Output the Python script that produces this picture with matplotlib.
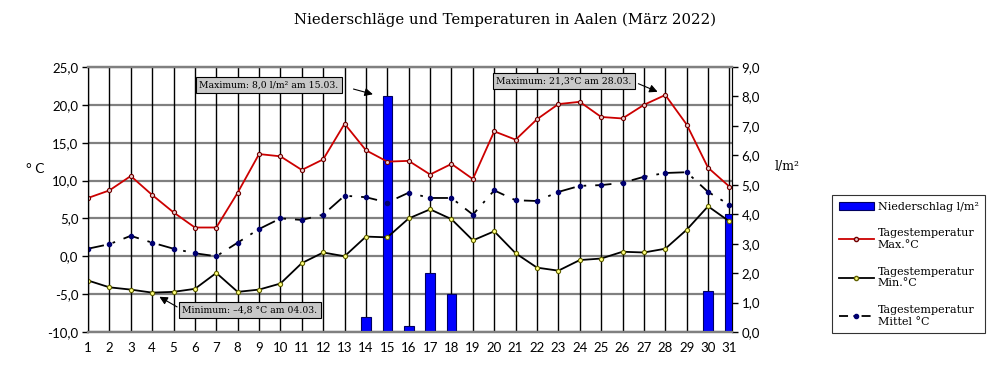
import matplotlib
matplotlib.use('Agg')
import matplotlib.pyplot as plt
from matplotlib.lines import Line2D
from matplotlib.patches import Patch
from matplotlib.transforms import blended_transform_factory

# data
days = list(range(1, 32))

t_max = [7.7, 8.7, 10.6, 8.1, 5.8, 3.8, 3.8, 8.4, 13.5, 13.2, 11.4, 12.8, 17.5, 14.0, 12.5, 12.6,
         10.8, 12.2, 10.2, 16.5, 15.4, 18.1, 20.1, 20.4, 18.4, 18.2, 20.0, 21.3, 17.4, 11.7, 9.2]
t_min = [-3.2, -4.1, -4.4, -4.8, -4.7, -4.3, -2.2, -4.7, -4.4, -3.6, -0.9, 0.5, 0.0, 2.6, 2.5, 5.0,
         6.2, 4.9, 2.1, 3.3, 0.4, -1.5, -1.9, -0.5, -0.3, 0.6, 0.5, 1.0, 3.5, 6.6, 4.6]
t_mean = [1.0, 1.6, 2.7, 1.8, 1.0, 0.4, 0.0, 1.8, 3.6, 5.0, 4.8, 5.5, 8.0, 7.8, 7.1, 8.4,
          7.7, 7.7, 5.5, 8.7, 7.4, 7.3, 8.5, 9.3, 9.4, 9.7, 10.5, 11.0, 11.1, 8.5, 6.8]
rain = [0, 0, 0, 0, 0, 0, 0, 0, 0, 0, 0, 0, 0, 0.5, 8.0, 0.2,
        2.0, 1.3, 0, 0, 0, 0, 0, 0, 0, 0, 0, 0, 0, 1.4, 4.0]

temp_ticks = [-10, -5, 0, 5, 10, 15, 20, 25]
rain_ticks = list(range(0, 10))

title = 'Niederschläge und Temperaturen in Aalen (März 2022)'

serif = 'DejaVu Serif'
sans = 'Lato'


def fmt(v):
    return ('%.1f' % v).replace('.', ',')


fig = plt.figure(figsize=(10, 3.78), dpi=100)
ax = fig.add_axes([0.088, 0.1217, 0.644, 0.7011])
ax2 = ax.twinx()
ax.set_zorder(2)
ax2.set_zorder(1)
ax.patch.set_visible(False)

# precipitation bars (behind the lines)
ax2.bar(days, rain, width=0.45, color='#0000ff', edgecolor='#000060', linewidth=0.8, zorder=3)
ax2.set_ylim(0, 9)
ax2.set_yticks(rain_ticks)
ax2.set_yticklabels([fmt(v) for v in rain_ticks], fontfamily=sans, fontsize=9.5)
ax2.tick_params(axis='y', direction='out', length=4, width=1, pad=3)

# grid on the back axes
trans = blended_transform_factory(ax2.transAxes, ax.transData)
for t in temp_ticks:
    ax2.add_line(Line2D([0, 1], [t, t], transform=trans, color='#808080', linewidth=1.6, zorder=1))
for d in days:
    ax2.axvline(d, color='black', linewidth=1, zorder=1)

# temperature lines
ax.plot(days, t_max, color='#cc0000', linewidth=1.3, marker='o', markersize=3,
        markerfacecolor='#e8c8c8', markeredgecolor='#700000', markeredgewidth=0.8)
ax.plot(days, t_min, color='black', linewidth=1.3, marker='o', markersize=3,
        markerfacecolor='#ffff80', markeredgecolor='#606000', markeredgewidth=0.8)
ax.plot(days, t_mean, color='black', linewidth=1.3, dashes=(9, 5, 1.5, 5), marker='o', markersize=3,
        markerfacecolor='#000070', markeredgecolor='#000070')

ax.set_xlim(1, 31.12)
ax2.set_xlim(1, 31.12)
ax.set_ylim(-10, 25)
ax.set_yticks(temp_ticks)
ax.set_yticklabels([fmt(v) for v in temp_ticks], fontfamily=sans, fontsize=9.5)
ax.set_xticks(days)
ax.set_xticklabels([str(d) for d in days], fontfamily=sans, fontsize=9.5)
ax.tick_params(axis='x', length=0, pad=7)
ax.tick_params(axis='y', direction='out', length=4, width=1, pad=3)

for a in (ax, ax2):
    a.spines['top'].set_color('#808080')
    a.spines['top'].set_linewidth(1.6)
    a.spines['bottom'].set_color('#808080')
    a.spines['bottom'].set_linewidth(1.6)
    a.spines['left'].set_color('black')
    a.spines['right'].set_color('black')

# axis titles
fig.text(0.035, 0.553, '° C', fontfamily=sans, fontsize=10, ha='center', va='center')
fig.text(0.787, 0.56, 'l/m²', fontfamily=serif, fontsize=9, ha='center', va='center')
fig.text(0.505, 0.947, title, fontfamily=serif, fontsize=10.7, ha='center', va='center')

# annotations
box = dict(boxstyle='square,pad=0.4', facecolor='#c8c8c8', edgecolor='black', linewidth=0.8)
arrow = dict(arrowstyle='-|>', color='black', linewidth=0.8, mutation_scale=12, shrinkB=6)

i15 = days.index(15)
ax2.annotate('Maximum: 8,0 l/m² am 15.03.', xy=(days[i15] - 0.3, rain[i15]), xycoords='data',
             xytext=(0.269, 0.775), textcoords='figure fraction', ha='center', va='center',
             fontfamily=serif, fontsize=6.7, bbox=box,
             arrowprops=dict(arrow, relpos=(1, 0.5), shrinkA=8), zorder=10)

i28 = days.index(28)
ax.annotate('Maximum: 21,3°C am 28.03.', xy=(days[i28], t_max[i28]), xycoords='data',
            xytext=(0.564, 0.786), textcoords='figure fraction', ha='center', va='center',
            fontfamily=serif, fontsize=6.7, bbox=box,
            arrowprops=dict(arrow, relpos=(1, 0.5), shrinkA=2), zorder=10)

i4 = days.index(4)
ax.annotate('Minimum: –4,8 °C am 04.03.', xy=(days[i4], t_min[i4]), xycoords='data',
            xytext=(0.25, 0.18), textcoords='figure fraction', ha='center', va='center',
            fontfamily=serif, fontsize=6.7, bbox=box,
            arrowprops=dict(arrow, relpos=(0, 0.5), shrinkA=1), zorder=10)

# legend
handles = [
    Patch(facecolor='#0000ff', edgecolor='#000060', linewidth=0.8),
    Line2D([], [], color='#cc0000', linewidth=1.3, marker='o', markersize=3,
           markerfacecolor='#e8c8c8', markeredgecolor='#700000'),
    Line2D([], [], color='black', linewidth=1.3, marker='o', markersize=3,
           markerfacecolor='#ffff80', markeredgecolor='#606000'),
    Line2D([], [], color='black', linewidth=1.3, dashes=(5, 3, 1.5, 3), marker='o', markersize=3,
           markerfacecolor='#000070', markeredgecolor='#000070'),
]
labels = ['Niederschlag l/m²', 'Tagestemperatur\nMax.°C', 'Tagestemperatur\nMin.°C',
          'Tagestemperatur\nMittel °C']
leg = fig.legend(handles, labels, loc='upper left', bbox_to_anchor=(0.832, 0.484),
                 prop={'family': serif, 'size': 8}, frameon=True, fancybox=False,
                 edgecolor='black', handlelength=3.2, handletextpad=0.3, labelspacing=1.5,
                 borderpad=0.6, borderaxespad=0)
leg.get_frame().set_linewidth(0.8)

fig.savefig('out.png', dpi=100)
